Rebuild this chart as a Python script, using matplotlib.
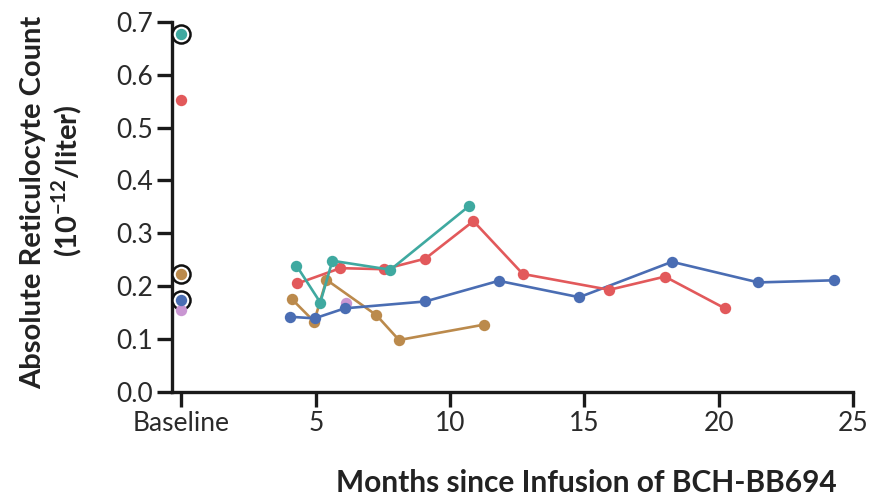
import matplotlib
matplotlib.use("Agg")
import matplotlib.pyplot as plt

plt.rcParams['font.family'] = ['Lato', 'DejaVu Sans']
plt.rcParams['mathtext.fontset'] = 'custom'
plt.rcParams['mathtext.rm'] = 'Lato'
plt.rcParams['mathtext.bf'] = 'Lato:bold'

# Baseline values (x = 0)
baseline_colors = ['teal', 'red', 'brown', 'blue', 'purple']
baseline_values = [0.677, 0.552, 0.223, 0.174, 0.155]
baseline_circled = [True, False, True, True, False]

# Follow-up series
teal_months = [4.28, 5.17, 5.62, 7.78, 10.72]
teal_values = [0.239, 0.169, 0.248, 0.231, 0.352]

red_months = [4.32, 5.92, 7.54, 9.08, 10.87, 12.71, 15.93, 18.0, 20.23]
red_values = [0.205, 0.234, 0.232, 0.252, 0.323, 0.223, 0.193, 0.218, 0.158]

blue_months = [4.06, 4.96, 6.08, 9.08, 11.81, 14.81, 18.26, 21.48, 24.29]
blue_values = [0.142, 0.139, 0.158, 0.171, 0.210, 0.179, 0.246, 0.207, 0.211]

brown_months = [4.10, 4.94, 5.40, 7.26, 8.10, 11.25]
brown_values = [0.176, 0.133, 0.212, 0.145, 0.098, 0.127]

purple_months = [6.12]
purple_values = [0.169]

xtick_pos = [0, 5, 10, 15, 20, 25]
xtick_labels = ['Baseline', '5', '10', '15', '20', '25']
ytick_pos = [0.0, 0.1, 0.2, 0.3, 0.4, 0.5, 0.6, 0.7]
ytick_labels = ['0.0', '0.1', '0.2', '0.3', '0.4', '0.5', '0.6', '0.7']

palette = {
    'teal': '#3fa9a0',
    'red': '#e2595b',
    'blue': '#4a6db3',
    'brown': '#bb8a4c',
    'purple': '#c996d2',
}

fig = plt.figure(figsize=(8.71, 4.96), dpi=100)
ax = fig.add_axes([0.1975, 0.210, 0.7818, 0.746])

lw = 1.9
ms = 8.2
series = [
    ('purple', purple_months, purple_values),
    ('brown', brown_months, brown_values),
    ('blue', blue_months, blue_values),
    ('red', red_months, red_values),
    ('teal', teal_months, teal_values),
]
for name, xs, ys in series:
    ax.plot(xs, ys, '-o', color=palette[name], lw=lw, ms=ms,
            markeredgewidth=0, clip_on=False, zorder=3)

# baseline points
order = [4, 3, 2, 1, 0]
for i in order:
    c = baseline_colors[i]
    v = baseline_values[i]
    if baseline_circled[i]:
        ax.plot([0], [v], 'o', ms=13, markerfacecolor='white',
                markeredgecolor='#111111', markeredgewidth=1.8,
                clip_on=False, zorder=4)
    ax.plot([0], [v], 'o', ms=ms, color=palette[c], markeredgewidth=0,
            clip_on=False, zorder=5)

ax.set_xlim(-0.35, 25)
ax.set_ylim(0, 0.7)
ax.set_xticks(xtick_pos)
ax.set_xticklabels(xtick_labels)
ax.set_yticks(ytick_pos)
ax.set_yticklabels(ytick_labels)

for s in ['top', 'right']:
    ax.spines[s].set_visible(False)
for s in ['left', 'bottom']:
    ax.spines[s].set_linewidth(2.4)
    ax.spines[s].set_color('#1a1a1a')
ax.tick_params(axis='both', which='major', direction='out', length=10.5,
               width=2.4, color='#1a1a1a', labelsize=19, labelcolor='#2a2a2a')
ax.tick_params(axis='x', pad=3)
ax.tick_params(axis='y', pad=3)

fig.text(0.961, 0.008, 'Months since Infusion of BCH-BB694', ha='right',
         va='baseline', fontsize=21.5, fontweight='bold', color='#222222')
fig.text(0.038, 0.591, 'Absolute Reticulocyte Count', rotation=90,
         ha='center', va='center', fontsize=21, fontweight='bold', color='#222222')
fig.text(0.0765, 0.635, r'(10$^{\mathbf{-12}}$/liter)', rotation=90,
         ha='center', va='center', fontsize=21, fontweight='bold', color='#222222')

fig.savefig('out.png', dpi=100)
